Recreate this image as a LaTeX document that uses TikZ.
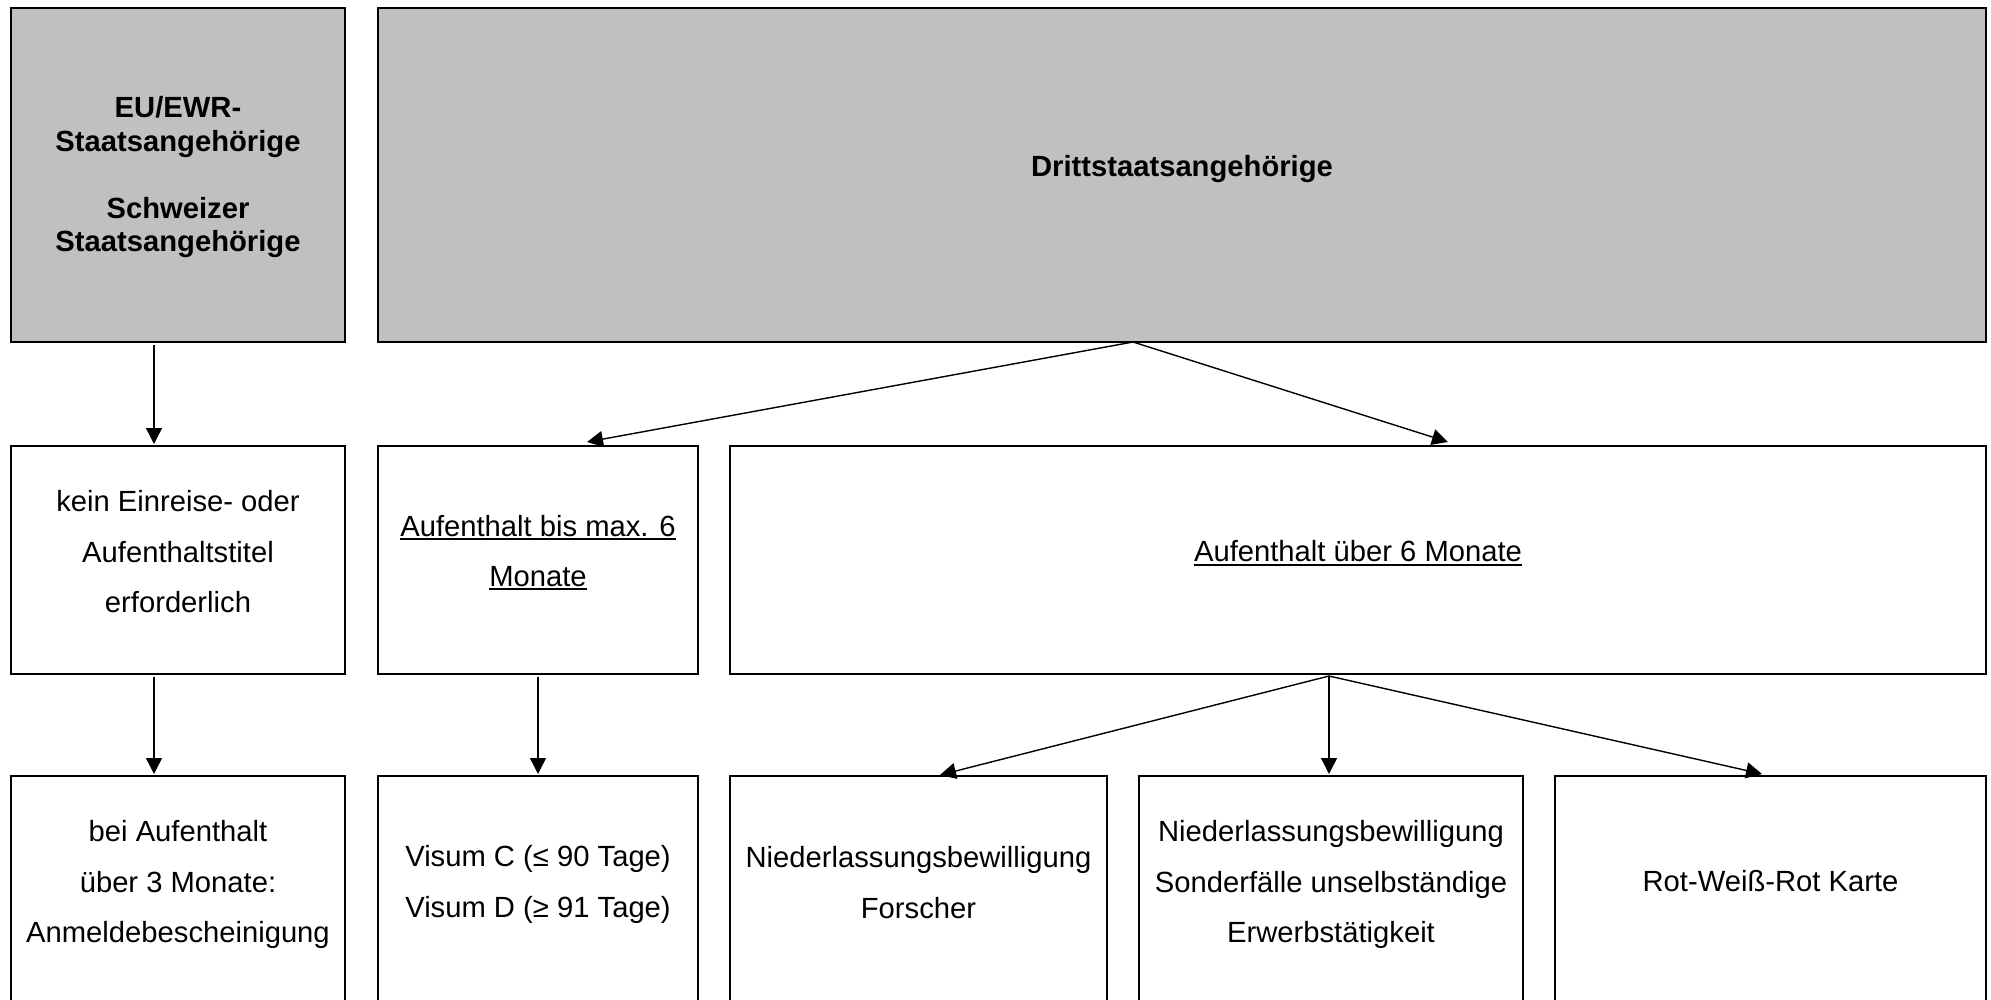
\documentclass[tikz,border=0pt]{standalone}
\usepackage{fontspec}
\setmainfont{Liberation Sans}
\usetikzlibrary{arrows.meta}
\definecolor{boxgray}{HTML}{C0C0C0}
\newcommand\mylines[1]{\begin{tabular}[t]{@{}c@{}}#1\end{tabular}}
\newcommand\ulbox[1]{\setbox0\hbox{#1}\rlap{\rule[-2pt]{\wd0}{1pt}}\box0}
\begin{document}
\begin{tikzpicture}[x=0.5pt,y=-0.5pt,
  box/.style={draw=black,line width=1.1pt,inner sep=0pt,outer sep=0pt,rectangle},
  gbox/.style={box,fill=boxgray},
  lbl/.style={anchor=base,inner sep=0pt,font=\fontsize{14.6pt}{25.2pt}\selectfont},
  blbl/.style={anchor=base,inner sep=0pt,font=\fontsize{14.6pt}{16.8pt}\selectfont\bfseries},
  arr/.style={line width=0.7pt,-{Triangle[length=8pt,width=8pt]}}]
\useasboundingbox (0,0) rectangle (1991,1000);
\clip (0,0) rectangle (1991,1000);
% boxes
\node[gbox,minimum width=167pt,minimum height=167pt] (eu) at (178,175) {};
\node[gbox,minimum width=804pt,minimum height=167pt] (dritt) at (1182,175) {};
\node[box,minimum width=167pt,minimum height=114pt] (kein) at (178,560) {};
\node[box,minimum width=160pt,minimum height=114pt] (bis) at (538,560) {};
\node[box,minimum width=628pt,minimum height=114pt] (ueber) at (1358,560) {};
\node[box,minimum width=167pt,minimum height=116pt] (anm) at (178,892) {};
\node[box,minimum width=160pt,minimum height=116pt] (visum) at (538,892) {};
\node[box,minimum width=188.5pt,minimum height=116pt] (forscher) at (918.5,892) {};
\node[box,minimum width=192pt,minimum height=116pt] (sonder) at (1331,892) {};
\node[box,minimum width=215.5pt,minimum height=116pt] (rwr) at (1770.5,892) {};
% texts
\node[blbl] (eut) at (178,117.5) {\mylines{EU/EWR-\\Staatsangehörige\\[16.8pt]Schweizer\\Staatsangehörige}};
\node[blbl] (drittt) at (1182,176.7) {Drittstaatsangehörige};
\node[lbl] (keint) at (178,511.7) {\mylines{kein Einreise- oder\\Aufenthaltstitel\\erforderlich}};
\node[lbl] (bist) at (538,536) {\mylines{\ulbox{Aufenthalt bis max. 6}\\\ulbox{Monate}}};
\node[lbl] (uebert) at (1358,561.7) {\ulbox{Aufenthalt über 6 Monate}};
\node[lbl] (anmt) at (178,841.7) {\mylines{bei Aufenthalt\\über 3 Monate:\\Anmeldebescheinigung}};
\node[lbl] (visumt) at (538,866.7) {\mylines{Visum C (≤ 90 Tage)\\Visum D (≥ 91 Tage)}};
\node[lbl] (forschert) at (918.5,867.7) {\mylines{Niederlassungsbewilligung\\Forscher}};
\node[lbl] (sondert) at (1331,841.7) {\mylines{Niederlassungsbewilligung\\Sonderfälle unselbständige\\Erwerbstätigkeit}};
\node[lbl] (rwrt) at (1770.5,891) {Rot-Weiß-Rot Karte};
% connectors
\draw[arr] ([xshift=-12pt,yshift=-1.5pt]eu.south) -- ([xshift=-12pt,yshift=1pt]kein.north);
\draw[arr] ([xshift=-12pt,yshift=-1.5pt]kein.south) -- ([xshift=-12pt,yshift=1pt]anm.north);
\draw[arr] ([xshift=-24.5pt]dritt.south) -- ([xshift=24.5pt,yshift=2pt]bis.north);
\draw[arr] ([xshift=-24.5pt]dritt.south) -- ([xshift=45pt,yshift=2pt]ueber.north);
\draw[arr] ([yshift=-1.5pt]bis.south) -- ([yshift=1pt]visum.north);
\coordinate (hub) at ([xshift=-14.5pt,yshift=-1pt]ueber.south);
\path (hub |- sonder.north) coordinate (sn);
\draw[arr] (hub) -- ([xshift=10.75pt,yshift=0.5pt]forscher.north);
\draw[arr] (hub) -- ([yshift=1pt]sn);
\draw[arr] (hub) -- ([xshift=-4.25pt,yshift=1pt]rwr.north);
\end{tikzpicture}
\end{document}
